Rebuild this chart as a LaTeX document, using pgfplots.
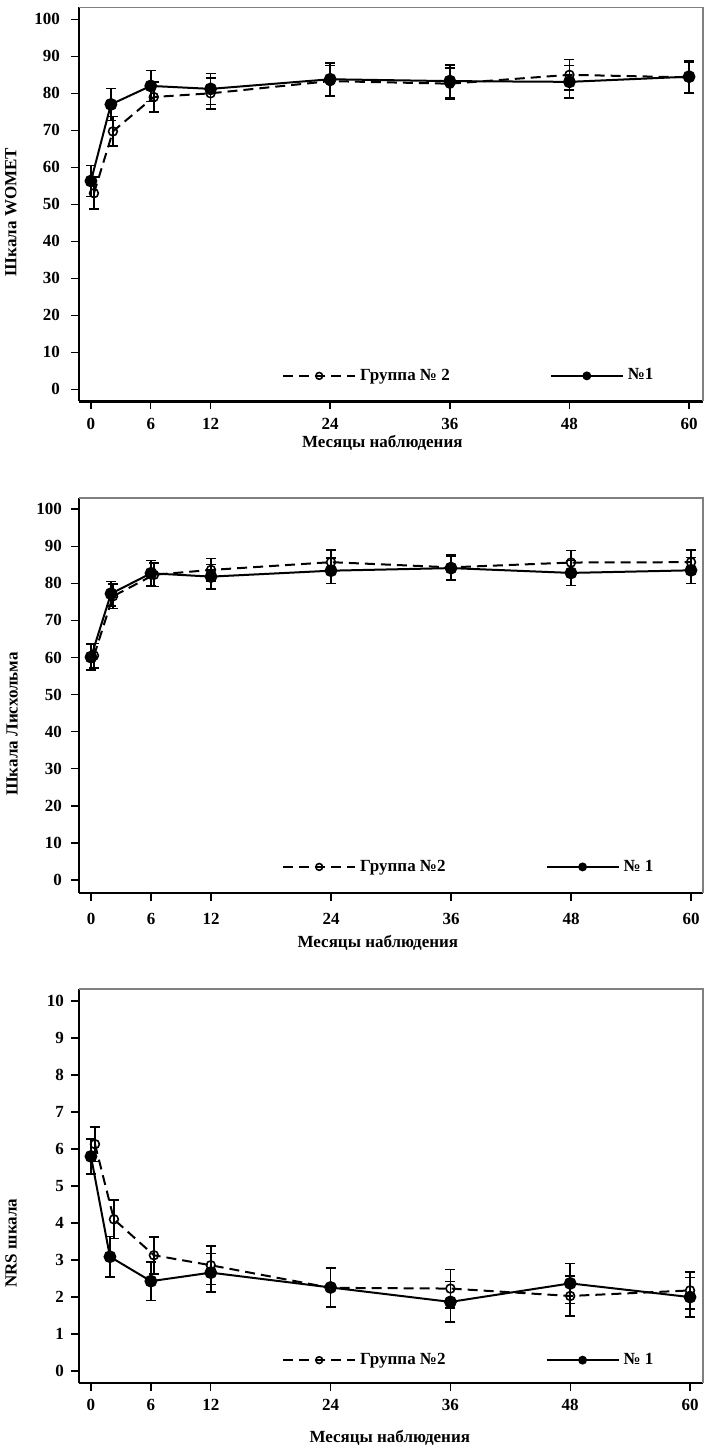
\documentclass[border=0pt]{standalone}
\usepackage{fontspec}
\setmainfont{Liberation Serif}
\usepackage{pgfplots}
\pgfplotsset{compat=1.18}

% 1 px of the reference = 0.5pt
\newcommand{\lbl}{\fontsize{8.5}{10}\selectfont\bfseries}

\pgfplotsset{
  panel/.style={
    scale only axis,
    width=312pt, height=197pt,
    anchor=south west,
    axis lines*=left,
    axis line style={line width=1.2pt},
    xtick={0,6,12,24,36,48,60},
    tick align=outside,
    major tick length=4pt,
    tick style={line width=0.7pt, black},
    /pgf/number format/assume math mode=true,
    tick label style={font=\lbl},
    label style={font=\lbl},
    clip=false,
    legend columns=2,
    legend cell align=left,
    legend style={draw=none, fill=none, font=\lbl, anchor=west,
      /tikz/every even column/.append style={column sep=48pt},
      inner sep=0pt},
    legend image code/.code={
      \draw[mark repeat=2,mark phase=2,#1,mark size=1.7pt]
        plot coordinates {(0pt,0pt) (18pt,0pt) (36pt,0pt)};},
  },
  grpone/.style={black, line width=1pt, mark=*, mark size=2.7pt,
    mark options={solid, fill=black},
    error bars/.cd, y dir=both, y explicit,
    error bar style={line width=0.8pt, solid},
    error mark options={rotate=90, mark size=2.5pt, line width=0.8pt, solid}},
  grptwo/.style={black, line width=1pt, dash pattern=on 5pt off 3pt,
    mark=o, mark size=2.2pt, mark options={solid, fill=white, line width=0.8pt},
    error bars/.cd, y dir=both, y explicit,
    error bar style={line width=0.8pt, solid},
    error mark options={rotate=90, mark size=2.5pt, line width=0.8pt, solid}},
}

\begin{document}
\begin{tikzpicture}
\path[use as bounding box] (0,0) rectangle (353pt,723.5pt);

% ---- WOMET ----
\begin{axis}[panel, at={(39.5pt,522.75pt)},
  xmin=-1.2, xmax=61.4, ymin=-3.3, ymax=103.2,
  ytick={0,10,...,100},
  yticklabel style={xshift=-2pt},
  xticklabel style={yshift=-1pt},
  xlabel={Месяцы наблюдения},
  xlabel style={at={(axis description cs:0.486,-0.106)}, anchor=center},
  ylabel={Шкала WOMET},
  ylabel style={at={(axis description cs:-0.109,0.481)}, anchor=center},
  legend style={at={(axis description cs:0.325,0.065)}},
]
\draw[gray, line width=0.7pt] (rel axis cs:0,1) -- (rel axis cs:1,1) -- (rel axis cs:1,0);
\addplot[grptwo] coordinates {
  (0.3,53.0) +- (0,4.3) (2.2,69.7) +- (0,4.0) (6.3,79.0) +- (0,4.0)
  (12,80.0) +- (0,4.2) (24,83.3) +- (0,4.2) (36,82.6) +- (0,4.2)
  (48,85.0) +- (0,4.1) (60,84.3) +- (0,4.2)};
\addlegendentry{Группа № 2}
\addplot[grpone] coordinates {
  (0,56.3) +- (0,4.2) (2,77.0) +- (0,4.3) (6,82.0) +- (0,4.2)
  (12,81.2) +- (0,4.2) (24,83.8) +- (0,4.4) (36,83.3) +- (0,4.4)
  (48,83.1) +- (0,4.4) (60,84.5) +- (0,4.3)};
\addlegendentry{№1}
\end{axis}

% ---- Lysholm ----
\begin{axis}[panel, at={(39.5pt,277pt)},
  xmin=-1.2, xmax=61.2, ymin=-3.5, ymax=103.0,
  height=197.5pt,
  ytick={0,10,...,100},
  yticklabel style={xshift=-1pt},
  xticklabel style={yshift=-2.5pt},
  xlabel={Месяцы наблюдения},
  xlabel style={at={(axis description cs:0.479,-0.127)}, anchor=center},
  ylabel={Шкала Лисхольма},
  ylabel style={at={(axis description cs:-0.107,0.428)}, anchor=center},
  legend style={at={(axis description cs:0.325,0.066)}},
]
\draw[gray, line width=0.7pt] (rel axis cs:0,1) -- (rel axis cs:1,1) -- (rel axis cs:1,0);
\addplot[grptwo] coordinates {
  (0.3,60.5) +- (0,3.3) (2.2,76.5) +- (0,3.3) (6.3,82.3) +- (0,3.2)
  (12,83.6) +- (0,3.1) (24,85.7) +- (0,3.3) (36,84.3) +- (0,3.3)
  (48,85.6) +- (0,3.2) (60,85.7) +- (0,3.2)};
\addlegendentry{Группа №2}
\addplot[grpone] coordinates {
  (0,60.1) +- (0,3.5) (2,77.2) +- (0,3.3) (6,82.7) +- (0,3.4)
  (12,81.8) +- (0,3.3) (24,83.4) +- (0,3.5) (36,84.1) +- (0,3.3)
  (48,82.8) +- (0,3.4) (60,83.5) +- (0,3.5)};
\addlegendentry{№ 1}
\end{axis}

% ---- NRS ----
\begin{axis}[panel, at={(39.5pt,32pt)},
  xmin=-1.2, xmax=61.3, ymin=-0.32, ymax=10.32,
  ytick={0,1,...,10},
  yticklabel style={xshift=0pt},
  xticklabel style={yshift=-0.5pt},
  xlabel={Месяцы наблюдения},
  xlabel style={at={(axis description cs:0.498,-0.140)}, anchor=center},
  ylabel={NRS шкала},
  ylabel style={at={(axis description cs:-0.109,0.355)}, anchor=center},
  legend style={at={(axis description cs:0.325,0.058)}},
]
\draw[gray, line width=0.7pt] (rel axis cs:0,1) -- (rel axis cs:1,1) -- (rel axis cs:1,0);
\addplot[grptwo] coordinates {
  (0.4,6.13) +- (0,0.47) (2.3,4.10) +- (0,0.52) (6.3,3.13) +- (0,0.50)
  (12,2.86) +- (0,0.52) (24,2.25) +- (0,0.52) (36,2.23) +- (0,0.52)
  (48,2.03) +- (0,0.54) (60,2.18) +- (0,0.50)};
\addlegendentry{Группа №2}
\addplot[grpone] coordinates {
  (0,5.80) +- (0,0.47) (1.9,3.09) +- (0,0.55) (6,2.43) +- (0,0.52)
  (12,2.66) +- (0,0.52) (24,2.26) +- (0,0.53) (36,1.87) +- (0,0.55)
  (48,2.37) +- (0,0.54) (60,2.00) +- (0,0.53)};
\addlegendentry{№ 1}
\end{axis}
\end{tikzpicture}
\end{document}
